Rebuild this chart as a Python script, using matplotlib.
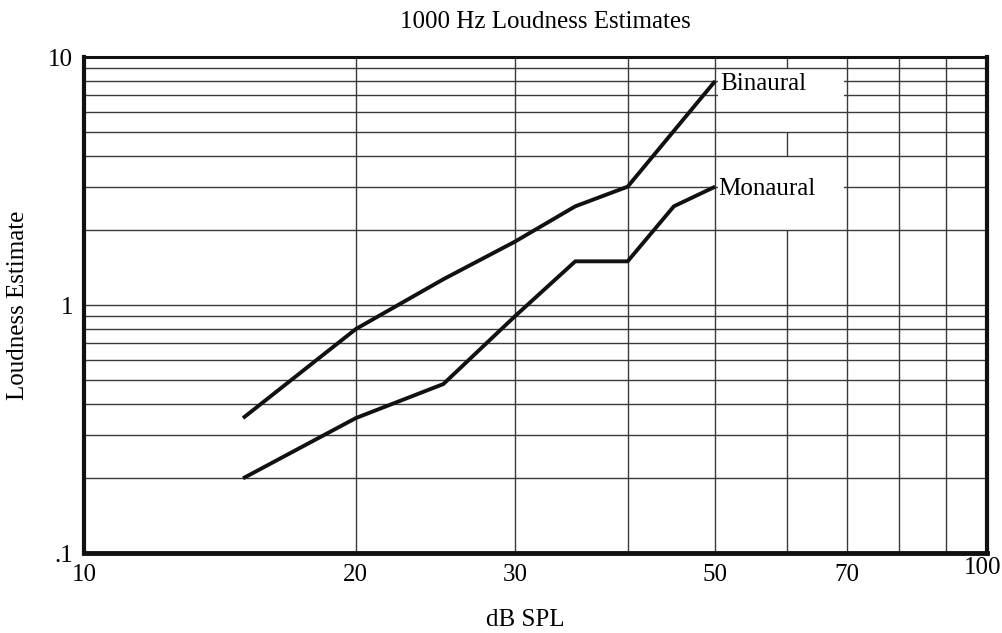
import numpy as np
import matplotlib.pyplot as plt
import matplotlib.transforms as mtransforms
from matplotlib.patches import Rectangle

# данные
spl_bin = [15, 20, 25, 30, 35, 40, 50]
loud_bin = [0.35, 0.8, 1.27, 1.8, 2.5, 3.0, 8.0]
spl_mon = [15, 20, 25, 30, 35, 40, 45, 50]
loud_mon = [0.2, 0.35, 0.48, 0.9, 1.5, 1.5, 2.5, 3.0]

x_ticks = [10, 20, 30, 50, 70, 100]
x_ticklabels = ["10", "20", "30", "50", "70", "100"]
y_ticks = [0.1, 1, 10]
y_ticklabels = [".1", "1", "10"]

plt.rcParams['font.family'] = ['Liberation Serif', 'DejaVu Serif']
FS = 18

fig = plt.figure(figsize=(10.03, 6.33), dpi=100)
ax = fig.add_axes([84 / 1003, 80 / 633, 903 / 1003, 496 / 633])
ax.set_xscale('log')
ax.set_yscale('log')
ax.set_xlim(10, 100)
ax.set_ylim(0.1, 10)

grid_kw = dict(color='#3a3a3a', lw=1.0, zorder=1)

# горизонтальные линии сетки
for dec in [0.1, 1]:
    for k in range(1, 10):
        y = dec * k
        if 0.1 < y < 10:
            ax.axhline(y, **grid_kw)

# вертикальные линии сетки (60 нарисована кусками, как в оригинале)
for xv in [20, 30, 40, 50, 70, 80, 90]:
    ax.axvline(xv, **grid_kw)
for y0, y1 in [(9, 10), (4, 5), (0.1, 2)]:
    ax.vlines(60, y0, y1, **grid_kw)

# белые подложки под подписи
for y0, y1 in [(6.2, 8.8), (2.08, 3.85)]:
    ax.add_patch(Rectangle((50.4, y0), 69.4 - 50.4, y1 - y0,
                           facecolor='white', edgecolor='none', zorder=2))

ax.plot(spl_bin, loud_bin, color='#111111', lw=2.8, zorder=3,
        solid_capstyle='butt')
ax.plot(spl_mon, loud_mon, color='#111111', lw=2.8, zorder=3,
        solid_capstyle='butt')

ax.text(spl_bin[-1] * 1.012, loud_bin[-1] * 0.97, "Binaural", fontsize=FS,
        va='center', ha='left', zorder=4)
ax.text(spl_mon[-1] * 1.008, loud_mon[-1] * 0.98, "Monaural", fontsize=FS,
        va='center', ha='left', zorder=4)

ax.set_xticks(x_ticks)
ax.set_xticklabels(x_ticklabels)
ax.set_yticks(y_ticks)
ax.set_yticklabels(y_ticklabels)
ax.xaxis.set_minor_locator(plt.NullLocator())
ax.yaxis.set_minor_locator(plt.NullLocator())
ax.tick_params(axis='both', length=0, labelsize=FS)
ax.tick_params(axis='x', pad=8)
ax.tick_params(axis='y', pad=8)

# "100" в оригинале чуть выше и левее, чтобы не обрезалось
last = ax.get_xticklabels()[-1]
shift = mtransforms.ScaledTranslation(-3 / 72, 5 / 72, fig.dpi_scale_trans)
last.set_transform(last.get_transform() + shift)

for side, lw in [('left', 3), ('bottom', 3.5), ('right', 3), ('top', 2.2)]:
    ax.spines[side].set_linewidth(lw)
    ax.spines[side].set_color('#111111')
    ax.spines[side].set_zorder(5)

fig.text(545 / 1003, 1 - 22 / 633, "1000 Hz Loudness Estimates",
         fontsize=FS, ha='center', va='center')
fig.text(525 / 1003, 1 - 620 / 633, "dB SPL", fontsize=FS,
         ha='center', va='center')
fig.text(18 / 1003, 1 - 305 / 633, "Loudness Estimate", fontsize=FS,
         ha='center', va='center', rotation=90)

fig.savefig("out.png", dpi=100)
